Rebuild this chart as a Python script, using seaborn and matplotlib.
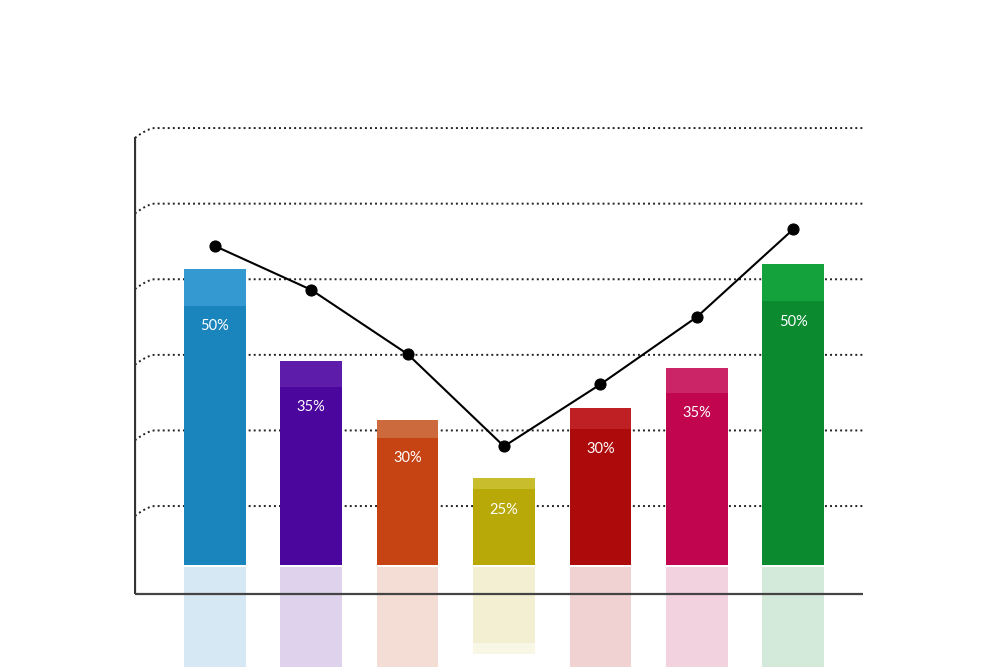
import numpy as np
import matplotlib
matplotlib.use("Agg")
import matplotlib.pyplot as plt
import seaborn as sns

# 数据
categories = ["A", "B", "C", "D", "E", "F", "G"]
bar_heights = [39.2, 27.0, 19.2, 11.5, 20.8, 26.1, 39.8]
top_depth = [4.9, 3.4, 2.4, 1.5, 2.8, 3.3, 4.9]
bar_labels = ["50%", "35%", "30%", "25%", "30%", "35%", "50%"]
line_values = [42.2, 36.4, 27.9, 15.7, 23.9, 32.8, 44.4]
grid_levels = [7.8, 17.8, 27.8, 37.8, 47.8, 57.8]

front_colors = ["#1a84bd", "#4b069e", "#c64313", "#b8a908", "#ad0a0b", "#c1064f", "#0b8a30"]
top_colors = ["#3399d0", "#5e1cab", "#cc6a3e", "#c8bd2c", "#bf2024", "#cc2567", "#13a23b"]

sns.set_style("white")
plt.rcParams['font.family'] = ['Lato', 'DejaVu Sans']

fig = plt.figure(figsize=(10, 6.67), dpi=100)
ax = fig.add_axes([0.134, 0.0, 0.729, 0.8216])

x_left, x_right = -0.829, 6.725
y_bottom, y_top = -13.49, 59.0
axis_y = -3.84

pos = np.arange(len(categories))
front = [h - t for h, t in zip(bar_heights, top_depth)]

# 网格线（左端带斜向弯曲）
t = np.linspace(0, 1, 12)
for g in grid_levels:
    cx = x_left + 0.2 * t
    cy = g - 1.3 * (1 - t) ** 1.5
    xs = np.concatenate([cx, [x_right]])
    ys = np.concatenate([cy, [g]])
    ax.plot(xs, ys, color="#222222", lw=1.4, linestyle=(0, (1, 1.6)), zorder=1)

# 柱子正面
sns.barplot(x=categories, y=front, hue=categories, palette=front_colors,
            legend=False, width=0.64, saturation=1, linewidth=0, ax=ax, zorder=3)
# 柱子顶面
ax.bar(pos, top_depth, bottom=front, width=0.64, color=top_colors, linewidth=0, zorder=3)

# 倒影
gap = 0.26
ax.bar(pos, [-f for f in front], bottom=-gap, width=0.64, color=front_colors,
       alpha=0.18, linewidth=0, zorder=2)
ax.bar(pos, [-d for d in top_depth], bottom=[-gap - f for f in front], width=0.64,
       color=top_colors, alpha=0.12, linewidth=0, zorder=2)

# 数值标签
for p, f, lab in zip(pos, front, bar_labels):
    ax.text(p, f - 2.7, lab, color="white", fontsize=10.5, ha="center", va="center", zorder=5)

# 折线
sns.lineplot(x=pos, y=line_values, color="black", lw=1.5, marker="o",
             markersize=8, markeredgecolor="black", ax=ax, zorder=6)

# 坐标轴线
ax.plot([x_left, x_left], [axis_y, 56.6], color="#333333", lw=1.6, zorder=4,
        solid_capstyle="butt")
ax.plot([x_left, x_right], [axis_y, axis_y], color="#444444", lw=1.6, zorder=4,
        solid_capstyle="butt")

ax.set_xlim(x_left - 0.01, x_right)
ax.set_ylim(y_bottom, y_top)
ax.set_xticks([])
ax.set_yticks([])
ax.set_xlabel("")
ax.set_ylabel("")
for s in ax.spines.values():
    s.set_visible(False)

fig.savefig("out.png", dpi=100)
